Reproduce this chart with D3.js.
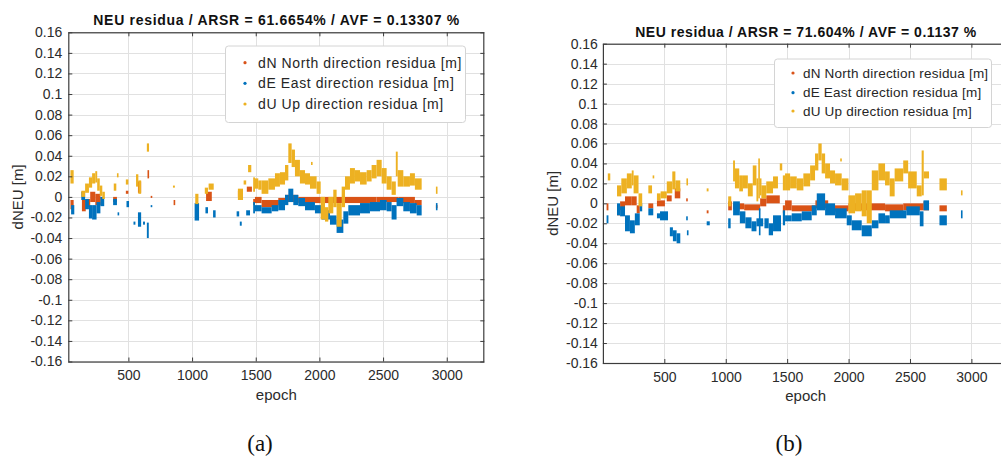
<!DOCTYPE html>
<html>
<head>
<meta charset="utf-8">
<script src="https://cdn.jsdelivr.net/npm/d3@7"></script>
<style>
  html, body { margin: 0; padding: 0; background: #fff; }
  svg { display: block; }
  text { font-family: "Liberation Sans", Arial, Helvetica, sans-serif; }
</style>
</head>
<body>
<svg id="fig" width="1001" height="457"></svg>
<script>
// ---- shared axis settings -------------------------------------------------
const yTicks = [0.16, 0.14, 0.12, 0.1, 0.08, 0.06, 0.04, 0.02, 0,
                -0.02, -0.04, -0.06, -0.08, -0.1, -0.12, -0.14, -0.16];
const xTicks = [500, 1000, 1500, 2000, 2500, 3000];
const seriesNames = ["dN North direction residua [m]",
                     "dE East direction residua [m]",
                     "dU Up direction residua [m]"];
const seriesColors = ["#D95319", "#0072BD", "#EDB120"];
const xLabel = "epoch";
const yLabel = "dNEU [m]";

const titleA = "NEU residua / ARSR = 61.6654% / AVF = 0.13307 %";
const titleB = "NEU residua / ARSR = 71.604% / AVF = 0.1137 %";
const captionA = "(a)";
const captionB = "(b)";

// residual values are stored in millimetres
const MM = 0.001;

// Each record: [first epoch, last epoch, lowest residual, highest residual]

// ---- case (a) -------------------------------------------------------------
const northA = [
  [45,70,-12,-3],[135,165,-14,-3],[165,200,-10,-2],[200,240,-5,5],[240,280,-8,3],
  [280,305,-8,0],[380,410,-5,0],[480,500,3,6],[575,600,4,15],[650,662,18,26],
  [675,685,-1,1],[855,865,-8,-3],[1110,1155,-4,5],[1360,1395,0,6],[1430,1470,5,10],
  [1480,1494,-8,-2],[1494,1546,-6,0],[1546,1677,-10,-3],[1677,1730,-8,-1],
  [1730,1834,-5,2],[1834,2010,-6,0],[2010,2449,-6,0],[2449,2620,-5,0],
  [2620,2750,-6,0],[2750,2803,-8,-3],[2915,2926,-11,-8]
];
const eastA = [
  [50,75,-17,-8],[130,160,-3,5],[160,190,-12,-2],[190,215,-21,-8],[215,250,-22,-8],
  [250,280,-16,-5],[280,310,-9,0],[380,410,-8,-2],[415,425,-18,-15],[485,505,-10,-4],
  [540,555,-27,-24],[575,600,-29,-15],[615,630,-27,-24],[645,660,-40,-25],
  [675,685,-10,-8],[1020,1055,-23,-6],[1105,1125,-16,-10],[1165,1185,-20,-13],
  [1350,1370,-19,-14],[1375,1390,-28,-24],[1425,1455,-18,-13],
  [1480,1494,-16,-5],[1494,1546,-14,-8],[1546,1625,-16,-10],[1625,1677,-14,-8],
  [1677,1730,-13,-3],[1730,1756,-8,2],[1756,1795,-5,8],[1795,1834,-8,2],
  [1834,1887,-9,-1],[1887,1965,-13,-5],[1965,2018,-16,-8],[2018,2083,-22,-13],
  [2083,2135,-27,-18],[2135,2188,-35,-22],[2188,2227,-26,-14],[2227,2319,-18,-8],
  [2319,2397,-16,-6],[2397,2476,-14,-5],[2476,2528,-13,-3],[2528,2567,-14,-5],
  [2567,2606,-22,-8],[2606,2659,-9,-1],[2659,2711,-14,-5],[2711,2764,-16,-6],
  [2764,2803,-18,-8],[2915,2926,-13,-6]
];
const upA = [
  [45,70,13,26],[130,160,0,6],[160,190,4,13],[190,215,9,19],[215,240,13,23],
  [240,255,14,25],[255,275,6,18],[275,295,1,11],[295,315,-2,5],[385,405,6,13],
  [410,420,19,23],[480,500,12,17],[560,578,10,22],[578,600,3,16],[645,662,44,52],
  [850,865,9,11],[1025,1050,-7,3],[1100,1125,3,9],[1130,1170,7,13],[1360,1400,-3,8],
  [1405,1425,12,16],[1440,1465,24,31],
  [1480,1494,5,19],[1494,1520,8,18],[1520,1546,7,16],[1546,1599,3,16],
  [1599,1651,7,18],[1651,1690,10,23],[1690,1730,12,24],[1730,1756,16,31],
  [1756,1782,33,52],[1782,1808,29,46],[1808,1847,20,36],[1847,1887,13,26],
  [1887,1926,12,23],[1926,1978,8,20],[1934,1942,31,34],[1978,2010,3,15],
  [2010,2044,-22,0],[2044,2070,-24,-10],[2070,2109,-16,0],[2109,2135,-10,7],
  [2135,2175,-29,-6],[2175,2201,-10,10],[2201,2240,7,20],[2240,2279,13,28],
  [2279,2319,15,26],[2319,2371,12,24],[2371,2410,15,26],[2410,2449,18,31],
  [2449,2489,20,36],[2489,2528,13,28],[2528,2567,7,20],[2567,2600,2,15],
  [2600,2615,20,44],[2615,2659,10,26],[2659,2711,10,20],[2711,2750,11,23],
  [2750,2803,7,18],[2915,2926,3,10]
];

// ---- case (b) -------------------------------------------------------------
const northB = [
  [30,45,-7,0],[115,140,-12,-2],[140,180,-7,2],[180,235,-2,7],[235,275,-2,7],
  [275,300,-10,-2],[370,410,-5,0],[440,505,-3,3],[520,560,2,8],[585,630,5,15],
  [678,688,2,5],[845,860,-10,-7],[1020,1050,-7,2],[1060,1150,-6,0],[1150,1280,-7,-1],
  [1280,1330,-3,5],[1330,1440,0,8],[1465,1483,-10,-2],[1483,1537,-7,3],
  [1537,1730,-8,-2],[1730,1834,-5,3],[1834,1999,-8,-2],[1999,2297,-7,0],
  [2297,2445,-8,-1],[2445,2610,-7,0],[2610,2655,-7,2],[2740,2800,-8,-2]
];
const eastB = [
  [30,45,-20,-12],[115,140,-12,0],[140,180,-13,-3],[180,220,-28,-12],[220,260,-30,-17],
  [260,300,-22,-10],[300,320,-8,0],[370,410,-12,-5],[440,465,-15,-10],[465,530,-17,-8],
  [545,570,-33,-24],[570,600,-38,-27],[600,630,-40,-30],[678,684,-17,-13],
  [684,692,-32,-27],[845,870,-22,-18],[1020,1040,-25,-15],[1060,1115,-12,2],
  [1115,1160,-20,-8],[1160,1210,-25,-14],[1210,1250,-28,-18],[1250,1305,-23,-15],
  [1270,1280,-32,-5],[1315,1350,-25,-15],[1350,1385,-32,-20],[1385,1450,-28,-12],
  [1465,1483,-22,-7],[1483,1537,-18,-12],[1537,1619,-18,-10],[1619,1700,-17,-8],
  [1700,1741,-12,-2],[1741,1809,-7,10],[1809,1890,-12,0],[1890,1985,-15,-5],
  [1985,2026,-22,-12],[2026,2107,-27,-17],[2107,2189,-33,-22],[2189,2243,-25,-17],
  [2243,2297,-20,-10],[2297,2335,-20,-12],[2335,2470,-15,-7],[2470,2580,-12,-3],
  [2580,2610,-23,-8],[2610,2655,-7,3],[2740,2800,-22,-12],[2915,2925,-15,-7]
];
const upB = [
  [40,60,23,30],[115,150,7,18],[150,195,10,25],[195,235,15,30],[235,250,18,33],
  [250,290,10,28],[290,320,-3,10],[370,400,10,18],[405,415,25,28],[440,470,3,10],
  [470,520,5,12],[520,565,10,22],[565,590,14,32],[590,630,12,23],[680,690,18,25],
  [845,860,12,15],[1020,1045,-3,7],[1060,1075,22,43],[1075,1110,15,35],
  [1110,1140,12,28],[1140,1180,15,28],[1180,1220,7,20],[1220,1250,18,38],
  [1250,1265,2,25],[1265,1278,5,45],[1278,1290,8,25],[1290,1330,5,18],
  [1330,1385,10,22],[1385,1425,15,27],[1440,1460,33,40],[1465,1483,13,28],
  [1483,1524,13,30],[1524,1578,15,27],[1578,1632,13,25],[1632,1687,17,30],
  [1687,1727,23,38],[1727,1754,33,50],[1754,1781,43,60],[1781,1809,30,50],
  [1809,1849,25,40],[1849,1890,20,33],[1890,1944,18,30],[1932,1940,42,45],
  [1944,1999,13,25],[1999,2053,-10,8],[2053,2107,-8,10],[2107,2148,-13,13],
  [2148,2189,-20,13],[2189,2243,13,33],[2243,2297,23,40],[2297,2335,18,32],
  [2335,2375,7,25],[2375,2445,22,35],[2445,2485,30,43],[2485,2555,15,32],
  [2555,2595,7,18],[2595,2612,8,53],[2612,2655,25,32],[2740,2800,13,25],
  [2915,2925,8,13]
];

// ---- drawing ---------------------------------------------------------------
const svg = d3.select("#fig");
const fmtY = d => String(+(+d).toFixed(2));

// soften the edges of the dense point clouds
const defs = svg.append("defs");
defs.append("filter").attr("id", "soft")
  .attr("x", "-5%").attr("y", "-5%").attr("width", "110%").attr("height", "110%")
  .append("feGaussianBlur").attr("stdDeviation", 0.45);

function drawPanel(cfg) {
  const x = d3.scaleLinear().domain(cfg.xDomain).range([cfg.left, cfg.right]);
  const y = d3.scaleLinear().domain([-0.16, 0.16]).range([cfg.bottom, cfg.top]);
  const g = svg.append("g");

  const clipId = "clip-" + cfg.id;
  defs.append("clipPath").attr("id", clipId).append("rect")
    .attr("x", cfg.left).attr("y", cfg.top)
    .attr("width", cfg.right - cfg.left).attr("height", cfg.bottom - cfg.top);

  // grid
  const grid = g.append("g").attr("stroke", "#e1e1e1").attr("stroke-width", 1);
  grid.selectAll("line.gy").data(yTicks).join("line")
    .attr("x1", cfg.left).attr("x2", cfg.right)
    .attr("y1", d => Math.round(y(d)) + 0.5).attr("y2", d => Math.round(y(d)) + 0.5);
  grid.selectAll("line.gx").data(xTicks).join("line")
    .attr("y1", cfg.top).attr("y2", cfg.bottom)
    .attr("x1", d => Math.round(x(d)) + 0.5).attr("x2", d => Math.round(x(d)) + 0.5);

  // residual marks: north, east, up (up drawn last, on top)
  const marks = g.append("g").attr("clip-path", `url(#${clipId})`)
    .append("g").attr("filter", "url(#soft)");
  [cfg.north, cfg.east, cfg.up].forEach((series, i) => {
    marks.append("g").attr("fill", seriesColors[i])
      .selectAll("rect").data(series).join("rect")
      .attr("x", d => x(d[0]))
      .attr("width", d => Math.max(1.6, x(d[1]) - x(d[0])))
      .attr("y", d => y(d[3] * MM))
      .attr("height", d => Math.max(1.6, y(d[2] * MM) - y(d[3] * MM)));
  });

  // axes with inward ticks on all four sides
  const axisColor = "#3c3c3c";
  const styleAxis = sel => {
    sel.select(".domain").remove();
    sel.selectAll(".tick line").attr("stroke", axisColor);
    sel.selectAll(".tick text").attr("fill", "#2b2b2b")
      .style("font-size", "14px").style("font-family", '"Liberation Sans", Arial, sans-serif');
  };
  g.append("g").attr("transform", `translate(${cfg.left},0)`)
    .call(d3.axisLeft(y).tickValues(yTicks).tickFormat(fmtY)
      .tickSizeInner(-4).tickSizeOuter(0).tickPadding(cfg.yPad))
    .call(styleAxis);
  g.append("g").attr("transform", `translate(${cfg.right},0)`)
    .call(d3.axisRight(y).tickValues(yTicks).tickFormat("")
      .tickSizeInner(-4).tickSizeOuter(0))
    .call(styleAxis);
  g.append("g").attr("transform", `translate(0,${cfg.bottom})`)
    .call(d3.axisBottom(x).tickValues(xTicks).tickFormat(d3.format("d"))
      .tickSizeInner(-4).tickSizeOuter(0).tickPadding(9))
    .call(styleAxis);
  g.append("g").attr("transform", `translate(0,${cfg.top})`)
    .call(d3.axisTop(x).tickValues(xTicks).tickFormat("")
      .tickSizeInner(-4).tickSizeOuter(0))
    .call(styleAxis);

  // box
  g.append("rect")
    .attr("x", cfg.left + 0.5).attr("y", cfg.top + 0.5)
    .attr("width", cfg.right - cfg.left - 1).attr("height", cfg.bottom - cfg.top)
    .attr("fill", "none").attr("stroke", axisColor).attr("stroke-width", 1.2);

  // title and axis labels
  g.append("text").attr("x", (cfg.left + cfg.right) / 2).attr("y", cfg.titleY)
    .attr("text-anchor", "middle").attr("font-weight", "bold")
    .attr("font-size", cfg.titleSize).attr("fill", "#111")
    .attr("textLength", cfg.titleWidth).attr("lengthAdjust", "spacing")
    .text(cfg.title);
  g.append("text").attr("x", (cfg.left + cfg.right) / 2).attr("y", cfg.xLabelY)
    .attr("text-anchor", "middle").attr("font-size", 15).attr("fill", "#2b2b2b").text(xLabel);
  g.append("text")
    .attr("transform", `translate(${cfg.yLabelX},${(cfg.top + cfg.bottom) / 2}) rotate(-90)`)
    .attr("text-anchor", "middle").attr("font-size", 15).attr("fill", "#2b2b2b").text(yLabel);

  // legend
  const L = cfg.legend;
  const lg = g.append("g");
  lg.append("rect").attr("x", L.x + 0.5).attr("y", L.y + 0.5).attr("width", L.w).attr("height", L.h)
    .attr("rx", 3).attr("fill", "#fff").attr("stroke", "#d4d4d4").attr("stroke-width", 1);
  seriesNames.forEach((name, i) => {
    const cy = L.rowY[i];
    lg.append("circle").attr("cx", L.markerX).attr("cy", cy).attr("r", 1.6)
      .attr("fill", seriesColors[i]);
    lg.append("text").attr("x", L.textX).attr("y", cy).attr("dy", "0.35em")
      .attr("font-size", L.fontSize).style("letter-spacing", L.spacing + "px")
      .attr("fill", "#262626").text(name);
  });

  // caption
  svg.append("text").attr("x", cfg.captionX).attr("y", cfg.captionY)
    .attr("text-anchor", "middle").attr("font-size", 23)
    .style("font-family", '"Liberation Serif", "DejaVu Serif", serif')
    .attr("fill", "#111").text(cfg.caption);
}

drawPanel({
  id: "a", left: 68.3, right: 484.3, top: 32.3, bottom: 361.5, xDomain: [28, 3295],
  north: northA, east: eastA, up: upA,
  title: titleA, titleY: 25, titleSize: 14, titleWidth: 366, yPad: 6,
  xLabelY: 400, yLabelX: 23,
  legend: { x: 225, y: 45.5, w: 240, h: 76.5, markerX: 245, textX: 258,
            rowY: [62.7, 83.3, 104], fontSize: 14, spacing: 0.6 },
  caption: captionA, captionX: 260, captionY: 451
});
drawPanel({
  id: "b", left: 602.9, right: 1008.5, top: 43.7, bottom: 363, xDomain: [0, 3302],
  north: northB, east: eastB, up: upB,
  title: titleB, titleY: 36.7, titleSize: 14, titleWidth: 341, yPad: 5,
  xLabelY: 401, yLabelX: 558,
  legend: { x: 774, y: 58.5, w: 217, h: 68.5, markerX: 793, textX: 803,
            rowY: [73, 92.7, 111], fontSize: 13.5, spacing: 0.2 },
  caption: captionB, captionX: 789, captionY: 451
});
</script>
</body>
</html>
